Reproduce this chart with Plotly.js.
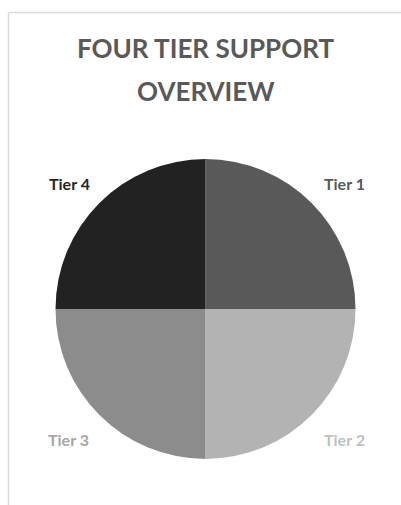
<!DOCTYPE html>
<html>
<head>
<meta charset="utf-8">
<script src="https://cdn.plot.ly/plotly-3.0.1.min.js"></script>
<style>html,body{margin:0;padding:0;background:#fff;}#chart{width:401px;height:505px;}</style>
</head>
<body>
<div id="chart"></div>
<script>
const labels = ["Tier 1", "Tier 2", "Tier 3", "Tier 4"];
const values = [25, 25, 25, 25];
const sliceColors = ["#595959", "#b3b3b3", "#8c8c8c", "#222222"];
const labelColors = ["#595959", "#bfbfbf", "#a6a6a6", "#262626"];
const titleLines = ["FOUR TIER SUPPORT", "OVERVIEW"];

const W = 401, H = 505;
const cx = 205.5, cy = 309, R = 150;
// label anchor positions in pixels (center x, center y from top)
const labelPos = [[344, 183], [344, 439], [68, 439], [69, 183]];
const titleY = [48, 91];

const trace = {
  type: "pie",
  labels: labels,
  values: values,
  sort: false,
  direction: "clockwise",
  rotation: 0,
  textinfo: "none",
  hoverinfo: "label+percent",
  marker: {colors: sliceColors, line: {width: 0}},
  domain: {x: [(cx - R) / W, (cx + R) / W], y: [(H - cy - R) / H, (H - cy + R) / H]},
  showlegend: false
};

const annotations = labels.map((l, i) => ({
  text: "<b>" + l + "</b>",
  xref: "paper", yref: "paper",
  x: labelPos[i][0] / W, y: 1 - labelPos[i][1] / H,
  xanchor: "center", yanchor: "middle",
  showarrow: false,
  font: {family: "Lato, 'Open Sans', sans-serif", size: 16, color: labelColors[i]}
})).concat(titleLines.map((t, i) => ({
  text: "<b>" + t + "</b>",
  xref: "paper", yref: "paper",
  x: cx / W, y: 1 - titleY[i] / H,
  xanchor: "center", yanchor: "middle",
  showarrow: false,
  font: {family: "Lato, 'Open Sans', sans-serif", size: 26, color: "#595959"}
})));

const layout = {
  width: W, height: H,
  margin: {l: 0, r: 0, t: 0, b: 0},
  paper_bgcolor: "#ffffff",
  plot_bgcolor: "#ffffff",
  annotations: annotations,
  shapes: [
    {type: "line", xref: "paper", yref: "paper", x0: 8.5 / W, x1: 8.5 / W, y0: 0, y1: 1 - 12.5 / H, line: {color: "#d9d9d9", width: 1.5}},
    {type: "line", xref: "paper", yref: "paper", x0: 8.5 / W, x1: 1, y0: 1 - 12.5 / H, y1: 1 - 12.5 / H, line: {color: "#d9d9d9", width: 1.5}}
  ]
};

Plotly.newPlot("chart", [trace], layout, {staticPlot: true, displayModeBar: false});
</script>
</body>
</html>
